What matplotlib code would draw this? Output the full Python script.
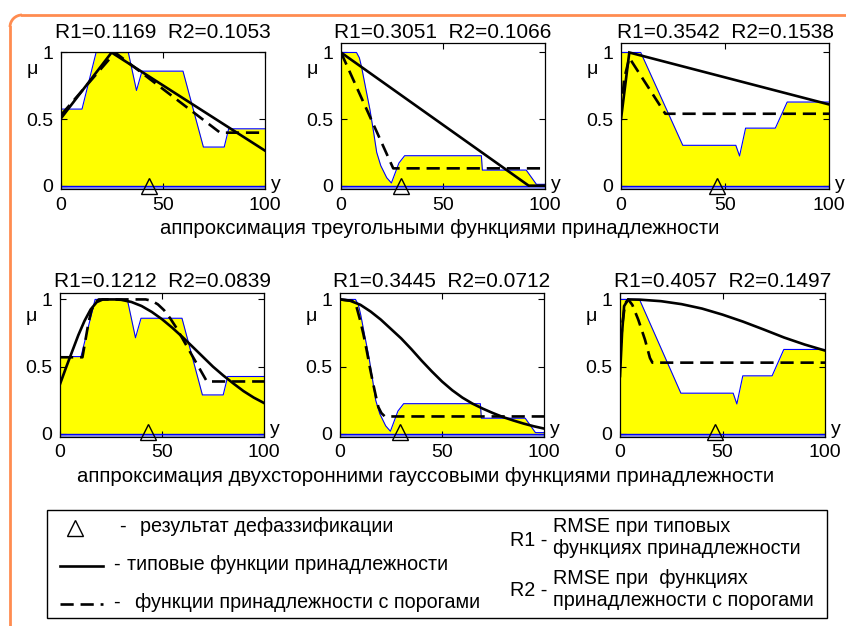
import matplotlib
matplotlib.use('Agg')
import matplotlib.pyplot as plt
from matplotlib.patches import Rectangle, Arc
from matplotlib.lines import Line2D
from matplotlib.transforms import blended_transform_factory, offset_copy

plt.rcParams['font.family'] = ['Liberation Sans', 'DejaVu Sans']

W, H, DPI = 846, 626, 100
FS = 14
FS_TITLE = 15
FS_CAP = 14.7
FS_LEG = 14.2

# ---------------- data ----------------
# target (blue) membership shapes, one per column
BLUE_L_X = [0, 10.3, 17.2, 33.0, 37.0, 39.7, 59.8, 69.8, 80.0, 82.2, 100]
BLUE_L_Y = [0.575, 0.575, 1.0, 1.0, 0.715, 0.86, 0.86, 0.29, 0.29, 0.427, 0.427]

BLUE_M_X = [0, 7.6, 9.0, 10.1, 12.0, 14.2, 16.0, 17.5, 19.5, 22.4, 24.7, 28.4, 31.2, 68.8, 69.3, 90.8, 95.8, 100]
BLUE_M_Y = [1.0, 1.0, 0.96, 0.89, 0.74, 0.57, 0.40, 0.25, 0.15, 0.06, 0.02, 0.17, 0.225, 0.225, 0.117, 0.117, 0.01, 0.01]

BLUE_R_X = [0, 9.5, 29.7, 55.2, 57.0, 59.9, 74.2, 79.9, 100]
BLUE_R_Y = [1.0, 1.0, 0.303, 0.303, 0.223, 0.432, 0.432, 0.628, 0.628]

# defuzzification results (triangles)
DEFUZZ = [43.0, 29.6, 46.2]

# triangular approximations
TRI_SOLID_X = [[0, 24.8, 100], [0, 92, 100], [0, 4, 100]]
TRI_SOLID_Y = [[0.506, 1.0, 0.263], [1.0, 0.0, 0.0], [0.5, 1.0, 0.61]]
TRI_DASH_X = [[0, 26.5, 78, 100], [0, 25.6, 100], [0, 1.5, 4, 21.3, 100]]
TRI_DASH_Y = [[0.53, 1.0, 0.398, 0.398], [1.0, 0.13, 0.13], [0.54, 0.8, 0.96, 0.54, 0.54]]

# two-sided gaussian approximations
G_SOLID_L_X = [0, 3, 6, 9, 12, 15, 18, 21, 27, 30, 35, 40, 45, 50, 55, 60, 65, 70, 75, 80, 85, 90, 95, 100]
G_SOLID_L_Y = [0.37, 0.495, 0.615, 0.735, 0.84, 0.925, 0.98, 1.0, 1.0, 0.997, 0.981, 0.951, 0.907, 0.853,
               0.79, 0.721, 0.648, 0.574, 0.50, 0.435, 0.375, 0.318, 0.27, 0.23]
G_DASH_L_X = [0, 11, 12.5, 14, 15.5, 17, 19, 42, 45, 48, 51, 54, 57, 60, 63, 66, 69, 72, 100]
G_DASH_L_Y = [0.57, 0.57, 0.70, 0.83, 0.92, 0.97, 1.0, 1.0, 0.99, 0.963, 0.92, 0.86, 0.79, 0.71, 0.63,
              0.55, 0.47, 0.39, 0.39]

G_SOLID_M_X = [0, 5, 10, 15, 20, 25, 30, 35, 40, 45, 50, 55, 60, 65, 70, 75, 80, 85, 90, 95, 100]
G_SOLID_M_Y = [1.0, 0.99, 0.96, 0.91, 0.85, 0.78, 0.71, 0.63, 0.545, 0.465, 0.39, 0.325, 0.27, 0.225,
               0.188, 0.155, 0.125, 0.10, 0.077, 0.057, 0.04]
G_DASH_M_X = [0, 6, 8, 9.8, 11.5, 13.1, 14.7, 16.3, 17.6, 18.8, 20.3, 22, 100]
G_DASH_M_Y = [1.0, 0.99, 0.95, 0.85, 0.74, 0.62, 0.49, 0.37, 0.28, 0.20, 0.155, 0.13, 0.13]

G_SOLID_R_X = [0, 1, 2, 4, 10, 20, 30, 40, 50, 60, 70, 80, 90, 100]
G_SOLID_R_Y = [0.43, 0.75, 0.95, 1.0, 0.998, 0.987, 0.965, 0.932, 0.887, 0.835, 0.777, 0.717, 0.665, 0.62]
G_DASH_R_X = [0, 1, 2.5, 4, 6, 8.9, 12.2, 14.6, 15.8, 100]
G_DASH_R_Y = [0.53, 0.8, 0.97, 1.0, 0.96, 0.85, 0.70, 0.565, 0.53, 0.53]

R1 = [0.1169, 0.3051, 0.3542, 0.1212, 0.3445, 0.4057]
R2 = [0.1053, 0.1066, 0.1538, 0.0839, 0.0712, 0.1497]

XTICKS = [0, 50, 100]
YTICKS = [0, 0.5, 1]
YTICKLABELS = ['0', '0.5', '1']

SECTION_TOP = 'аппроксимация треугольными функциями принадлежности'
SECTION_BOT = 'аппроксимация двухсторонними гауссовыми функциями принадлежности'

LEG_ROWS = ['результат дефаззификации', 'типовые функции принадлежности',
            'функции принадлежности с порогами']
LEG_R1 = ['RMSE при типовых', 'функциях принадлежности']
LEG_R2 = ['RMSE при  функциях', 'принадлежности с порогами']

# ---------------- figure ----------------
fig = plt.figure(figsize=(W / DPI, H / DPI), dpi=DPI)
fig.patch.set_facecolor('white')

# overlay axes in pixel coordinates (border + legend)
ov = fig.add_axes([0, 0, 1, 1], zorder=0)
ov.set_xlim(0, W)
ov.set_ylim(H, 0)
ov.set_axis_off()

ORANGE = '#ff8c50'
ov.add_line(Line2D([22, 846], [15, 15], color=ORANGE, lw=2))
ov.add_line(Line2D([10, 10], [27, 626], color=ORANGE, lw=2))
ov.add_patch(Arc((22, 27), 24, 24, theta1=180, theta2=270, color=ORANGE, lw=2))

# panel geometry in pixels (left, top, right, bottom) and y-limits
GEOM = [
    (61, 51.7, 265, 189.0, (-0.025, 1.006)),
    (341, 43.3, 545, 189.0, (-0.025, 1.069)),
    (621, 43.3, 829, 189.0, (-0.025, 1.069)),
    (60, 292.7, 264, 436.5, (-0.019, 1.05)),
    (340, 292.7, 544, 436.5, (-0.019, 1.05)),
    (620, 292.7, 825, 436.5, (-0.019, 1.05)),
]
TITLE_BASE = [38.5, 38.5, 38.5, 286.7, 286.7, 286.7]

BLUES = [(BLUE_L_X, BLUE_L_Y), (BLUE_M_X, BLUE_M_Y), (BLUE_R_X, BLUE_R_Y)]
SOLIDS = [(TRI_SOLID_X[0], TRI_SOLID_Y[0]), (TRI_SOLID_X[1], TRI_SOLID_Y[1]), (TRI_SOLID_X[2], TRI_SOLID_Y[2]),
          (G_SOLID_L_X, G_SOLID_L_Y), (G_SOLID_M_X, G_SOLID_M_Y), (G_SOLID_R_X, G_SOLID_R_Y)]
DASHES = [(TRI_DASH_X[0], TRI_DASH_Y[0]), (TRI_DASH_X[1], TRI_DASH_Y[1]), (TRI_DASH_X[2], TRI_DASH_Y[2]),
          (G_DASH_L_X, G_DASH_L_Y), (G_DASH_M_X, G_DASH_M_Y), (G_DASH_R_X, G_DASH_R_Y)]

LAV = '#8f98e6'
DASH_STYLE = (0, (5, 2.6))

for i in range(6):
    l, t, r, b, ylim = GEOM[i]
    ax = fig.add_axes([l / W, 1 - b / H, (r - l) / W, (b - t) / H], zorder=2)
    col = i % 3
    bx, by = BLUES[col]
    ax.set_xlim(0, 100)
    ax.set_ylim(*ylim)
    ax.axhspan(ylim[0], 0, color=LAV, lw=0, zorder=1)
    ax.fill_between(bx, 0, by, color='#ffff00', lw=0, zorder=1.2)
    ax.plot(bx, by, color='#0000ff', lw=0.8, zorder=2)
    ax.axhline(0, color='#0000ff', lw=1.0, zorder=2)
    sx, sy = SOLIDS[i]
    ax.plot(sx, sy, color='black', lw=1.9, zorder=3, solid_joinstyle='miter')
    dx, dy = DASHES[i]
    ax.plot(dx, dy, color='black', lw=1.9, ls=DASH_STYLE, zorder=3)
    ty = 0.0 if i < 3 else 0.012
    ax.plot([DEFUZZ[col]], [ty], marker='^', ms=12, mfc='none', mec='black', mew=1.0,
            clip_on=False, zorder=5, ls='none')

    ax.set_xticks(XTICKS)
    ax.set_xticklabels([str(v) for v in XTICKS])
    ax.set_yticks(YTICKS)
    ax.set_yticklabels(YTICKLABELS)
    ax.tick_params(direction='in', length=4, width=0.8, top=True, right=True,
                   labelsize=FS, pad=5.5)
    for sp in ax.spines.values():
        sp.set_linewidth(0.9)
        sp.set_color('black')

    pad_pt = (t - TITLE_BASE[i]) * 72 / DPI
    ax.set_title('R1=%.4f  R2=%.4f' % (R1[i], R2[i]), fontsize=FS_TITLE, pad=pad_pt)

    # mu label
    tr_mu = offset_copy(blended_transform_factory(ax.transAxes, ax.transData), fig=fig,
                        x=-29, y=0, units='dots')
    ax.text(0, 0.87, 'μ', transform=tr_mu, fontsize=FS, ha='center', va='center')
    # y label
    tr_y = offset_copy(blended_transform_factory(ax.transAxes, ax.transData), fig=fig,
                       x=11, y=0, units='dots')
    ax.text(1, 0.01 if i < 3 else 0.03, 'y', transform=tr_y, fontsize=FS, ha='center', va='center')

# section captions
ov.text(440, 228, SECTION_TOP, fontsize=FS_CAP, ha='center', va='center')
ov.text(426, 477, SECTION_BOT, fontsize=FS_CAP, ha='center', va='center')

# legend box
ov.add_patch(Rectangle((47, 510), 780, 108, fill=False, edgecolor='black', lw=1.0))
ov.plot([75], [528], marker='^', ms=11, mfc='none', mec='black', mew=1.0, ls='none')
ov.plot([60, 103], [566, 566], color='black', lw=1.9)
ov.plot([60, 103], [604, 604], color='black', lw=1.9, ls=DASH_STYLE)
ov.text(122, 526, '-', fontsize=FS_LEG, ha='center', va='center')
ov.text(116, 564, '-', fontsize=FS_LEG, ha='center', va='center')
ov.text(116, 602, '-', fontsize=FS_LEG, ha='center', va='center')
ov.text(140, 527, LEG_ROWS[0], fontsize=FS_LEG, ha='left', va='center')
ov.text(127, 565, LEG_ROWS[1], fontsize=FS_LEG, ha='left', va='center')
ov.text(135, 603, LEG_ROWS[2], fontsize=FS_LEG, ha='left', va='center')

ov.text(510, 541, 'R1 -', fontsize=FS_LEG, ha='left', va='center')
ov.text(553, 526, LEG_R1[0], fontsize=FS_LEG, ha='left', va='center')
ov.text(553, 549, LEG_R1[1], fontsize=FS_LEG, ha='left', va='center')
ov.text(510, 591, 'R2 -', fontsize=FS_LEG, ha='left', va='center')
ov.text(553, 579, LEG_R2[0], fontsize=FS_LEG, ha='left', va='center')
ov.text(553, 601, LEG_R2[1], fontsize=FS_LEG, ha='left', va='center')

fig.savefig('out.png', dpi=DPI)
